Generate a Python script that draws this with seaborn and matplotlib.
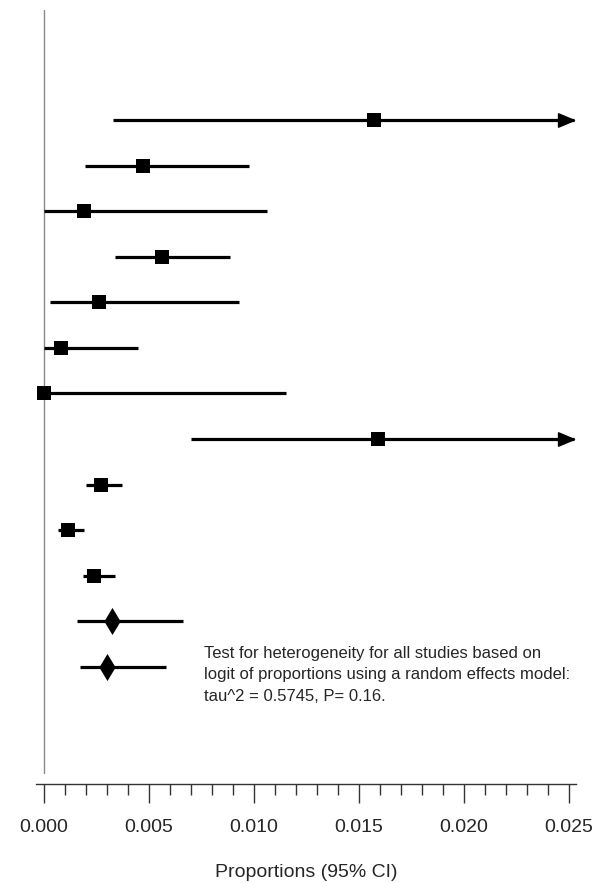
import numpy as np
import pandas as pd
import matplotlib
matplotlib.use("Agg")
import matplotlib.pyplot as plt
from matplotlib.path import Path
from matplotlib.ticker import MultipleLocator, FormatStrFormatter
import seaborn as sns

# study estimates (proportions) with 95% CI, top to bottom
prop = [0.0157, 0.0047, 0.0019, 0.0056, 0.0026, 0.0008, 0.0000, 0.0159,
        0.0027, 0.00115, 0.0024, 0.00323, 0.0030]
lower = [0.0033, 0.00195, 0.0000, 0.0034, 0.0003, 0.0000, 0.0000, 0.0070,
         0.0020, 0.00067, 0.00185, 0.00155, 0.0017]
upper = [0.0350, 0.00976, 0.0106, 0.00886, 0.0093, 0.0045, 0.0115, 0.0330,
         0.0037, 0.0019, 0.0034, 0.0066, 0.0058]
kind = ["study"] * 11 + ["pooled"] * 2

note = ("Test for heterogeneity for all studies based on\n"
        "logit of proportions using a random effects model:\n"
        "tau^2 = 0.5745, P= 0.16.")

df = pd.DataFrame({"prop": prop, "lower": lower, "upper": upper, "kind": kind})
df["row"] = np.arange(len(df))

sns.set_style("white")
plt.rcParams["font.family"] = ["Liberation Sans", "DejaVu Sans"]

fig = plt.figure(figsize=(5.94, 8.83), dpi=100)
ax = fig.add_axes([36 / 594, 99 / 883, 540 / 594, 774 / 883])

xmax_draw = 0.02524
ax.set_xlim(-0.00038, 0.02533)
row_px = 45.58
ax.set_ylim((784 - 120) / row_px, (10 - 120) / row_px)

# reference line at zero
ax.plot([0, 0], [(10 - 120) / row_px, (773 - 120) / row_px], color="#8a8a8a", lw=1.0, zorder=1)

# confidence intervals
for _, r in df.iterrows():
    hi = min(r["upper"], xmax_draw)
    ax.plot([r["lower"], hi], [r["row"], r["row"]], color="black", lw=2.3,
            solid_capstyle="butt", zorder=2)

# arrows for intervals running off the scale
arrow = Path([(0, 0), (-1, -0.42), (-1, 0.42), (0, 0)],
             [Path.MOVETO, Path.LINETO, Path.LINETO, Path.CLOSEPOLY])
off = df[df["upper"] > xmax_draw]
ax.plot([xmax_draw] * len(off), off["row"], ls="none", marker=arrow,
        markersize=23, color="black", zorder=3)

# point estimates: squares for studies, tall diamonds for pooled
diamond = Path([(0, 1), (0.6, 0), (0, -1), (-0.6, 0), (0, 1)],
               [Path.MOVETO, Path.LINETO, Path.LINETO, Path.LINETO, Path.CLOSEPOLY])
sns.scatterplot(data=df[df["kind"] == "study"], x="prop", y="row", marker="s",
                s=105, color="black", linewidth=0, legend=False, ax=ax, zorder=4)
sns.scatterplot(data=df[df["kind"] == "pooled"], x="prop", y="row", marker=diamond,
                s=380, color="black", linewidth=0, legend=False, ax=ax, zorder=4)

ax.text(0.00762, (675 - 120) / row_px, note, fontsize=12, va="center",
        ha="left", linespacing=1.55)

# axis styling
for s in ["top", "right", "left"]:
    ax.spines[s].set_visible(False)
ax.spines["bottom"].set_color("#333333")
ax.spines["bottom"].set_linewidth(1.0)
ax.set_yticks([])
ax.xaxis.set_major_locator(MultipleLocator(0.005))
ax.xaxis.set_minor_locator(MultipleLocator(0.001))
ax.xaxis.set_major_formatter(FormatStrFormatter("%.3f"))
ax.tick_params(axis="x", which="major", direction="out", length=13.5, width=1.0,
               color="#333333", labelsize=14, pad=12, bottom=True)
ax.tick_params(axis="x", which="minor", direction="out", length=8, width=1.0,
               color="#333333", bottom=True)
ax.set_xlabel("Proportions (95% CI)", fontsize=14, labelpad=20)
ax.set_ylabel("")

fig.savefig("out.png", dpi=100)
